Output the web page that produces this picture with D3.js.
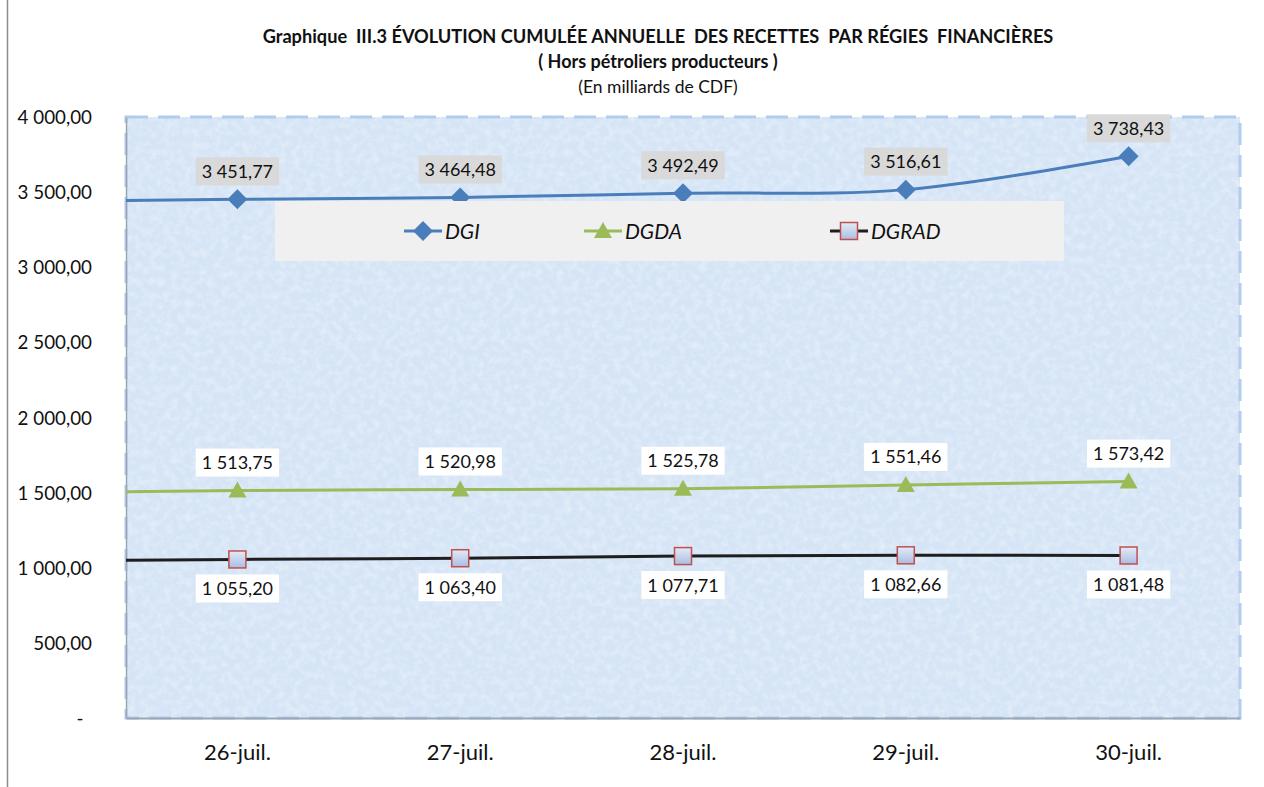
<!DOCTYPE html>
<html>
<head>
<meta charset="utf-8">
<script src="https://cdn.jsdelivr.net/npm/d3@7"></script>
<style>
  body { margin: 0; background: #fff; }
  svg { display: block; font-family: Lato, "Open Sans", sans-serif; }
</style>
</head>
<body>
<svg id="chart" width="1264" height="787"></svg>
<script>
// données (en milliards de CDF)
var dates = ["26-juil.", "27-juil.", "28-juil.", "29-juil.", "30-juil."];
var dgi = [3451.77, 3464.48, 3492.49, 3516.61, 3738.43];
var dgda = [1513.75, 1520.98, 1525.78, 1551.46, 1573.42];
var dgrad = [1055.20, 1063.40, 1077.71, 1082.66, 1081.48];
// valeur de la courbe au bord gauche du graphique (point précédent hors cadre)
var leftEdge = [3445, 1506, 1050];
var seriesNames = ["DGI", "DGDA", "DGRAD"];
var yTicks = [0, 500, 1000, 1500, 2000, 2500, 3000, 3500, 4000];

var FONT = "Lato, 'Open Sans', sans-serif";
var svg = d3.select("#chart");
var plot = { left: 126, right: 1240, top: 117, bottom: 718 };

var x = d3.scaleBand().domain(dates).range([plot.left, plot.right]).padding(0);
var y = d3.scaleLinear().domain([0, 4000]).range([plot.bottom, plot.top]);

var fmt = function (v) {
  if (v === 0) return "-";
  var s = d3.format(",.2f")(v);
  return s.replace(/,/g, " ").replace(".", ",");
};

// texture du fond
var defs = svg.append("defs");
var filt = defs.append("filter").attr("id", "tex")
  .attr("x", 0).attr("y", 0).attr("width", "100%").attr("height", "100%");
filt.append("feTurbulence").attr("type", "fractalNoise")
  .attr("baseFrequency", 0.14).attr("numOctaves", 3).attr("seed", 7).attr("result", "n");
filt.append("feColorMatrix").attr("in", "n").attr("type", "matrix")
  .attr("values", "0 0 0 0 1  0 0 0 0 1  0 0 0 0 1  1.4 0 0 0 -0.6")
  .attr("result", "w");
filt.append("feComposite").attr("in", "w").attr("in2", "SourceGraphic").attr("operator", "in");
defs.append("clipPath").attr("id", "clip").append("rect")
  .attr("x", plot.left).attr("y", plot.top - 20)
  .attr("width", plot.right - plot.left).attr("height", plot.bottom - plot.top + 20);
var grad = defs.append("linearGradient").attr("id", "sq").attr("x1", 0).attr("y1", 0).attr("x2", 0).attr("y2", 1);
grad.append("stop").attr("offset", 0).attr("stop-color", "#e4ebf7");
grad.append("stop").attr("offset", 1).attr("stop-color", "#a9bde3");

// bordure gauche du graphique
svg.append("line").attr("x1", 7.5).attr("x2", 7.5).attr("y1", 0).attr("y2", 787)
  .attr("stroke", "#8c8c8c").attr("stroke-width", 1.5);

// titre
var title = svg.append("g").attr("text-anchor", "middle").attr("fill", "#111");
title.append("text").attr("x", 658).attr("y", 43).attr("font-size", 18.2).attr("font-weight", "bold")
  .attr("xml:space", "preserve")
  .text("Graphique  III.3 ÉVOLUTION CUMULÉE ANNUELLE  DES RECETTES  PAR RÉGIES  FINANCIÈRES");
title.append("text").attr("x", 658).attr("y", 68).attr("font-size", 18).attr("font-weight", "bold")
  .text("( Hors pétroliers producteurs )");
title.append("text").attr("x", 658).attr("y", 93).attr("font-size", 17.5)
  .text("(En milliards de CDF)");

// zone de tracé
svg.append("rect").attr("x", plot.left).attr("y", plot.top)
  .attr("width", plot.right - plot.left).attr("height", plot.bottom - plot.top)
  .attr("fill", "#d6e5f6");
svg.append("rect").attr("x", plot.left).attr("y", plot.top)
  .attr("width", plot.right - plot.left).attr("height", plot.bottom - plot.top)
  .attr("fill", "#d6e5f6").attr("filter", "url(#tex)").attr("opacity", 0.55);
svg.append("rect").attr("x", plot.left).attr("y", plot.top)
  .attr("width", plot.right - plot.left).attr("height", plot.bottom - plot.top)
  .attr("fill", "none").attr("stroke", "#b3cbec").attr("stroke-width", 3)
  .attr("stroke-dasharray", "22,10");

// axes
var yAxis = d3.axisLeft(y).tickValues(yTicks).tickSize(0).tickPadding(34).tickFormat(fmt);
var gy = svg.append("g").attr("transform", "translate(" + plot.left + ",0)").call(yAxis)
  .attr("font-family", FONT);
gy.select(".domain").attr("stroke", "#9aa5b5").attr("stroke-width", 1.5);
gy.selectAll("text").attr("font-size", 18.8).attr("fill", "#111").attr("dy", "0.35em");
gy.selectAll(".tick").filter(function (d) { return d === 0; }).select("text")
  .attr("text-anchor", "middle").attr("x", -46);

var xAxis = d3.axisBottom(x).tickSize(0).tickPadding(26);
var gx = svg.append("g").attr("transform", "translate(0," + plot.bottom + ")").call(xAxis)
  .attr("font-family", FONT);
gx.select(".domain").attr("stroke", "#9aa5b5").attr("stroke-width", 2);
gx.selectAll("text").attr("font-size", 22).attr("fill", "#111");

// séries
var series = [
  { name: seriesNames[0], values: dgi, edge: leftEdge[0], color: "#4a7ebb", marker: "diamond", labelPos: "above", labelBg: "#d9d9d9" },
  { name: seriesNames[1], values: dgda, edge: leftEdge[1], color: "#9bbb59", marker: "triangle", labelPos: "above", labelBg: "#ffffff" },
  { name: seriesNames[2], values: dgrad, edge: leftEdge[2], color: "#1e1e1e", marker: "square", labelPos: "below", labelBg: "#ffffff" }
];

var cx = function (d) { return x(d) + x.bandwidth() / 2; };
var line = d3.line().x(function (d) { return d[0]; }).y(function (d) { return y(d[1]); })
  .curve(d3.curveCatmullRom.alpha(0));

function drawMarker(g, type, color) {
  if (type === "diamond") {
    g.append("path").attr("d", "M0,-10L10,0L0,10L-10,0Z").attr("fill", color);
  } else if (type === "triangle") {
    g.append("path").attr("d", "M0,-9L9,7L-9,7Z").attr("fill", color);
  } else {
    g.append("rect").attr("x", -8.5).attr("y", -8.5).attr("width", 17).attr("height", 17)
      .attr("fill", "url(#sq)").attr("stroke", "#c0504d").attr("stroke-width", 1.5);
  }
}

var gLines = svg.append("g").attr("clip-path", "url(#clip)");
series.forEach(function (s) {
  var pts = [[plot.left, s.edge]].concat(dates.map(function (d, i) { return [cx(d), s.values[i]]; }));
  gLines.append("path").attr("d", line(pts)).attr("fill", "none")
    .attr("stroke", s.color).attr("stroke-width", 3);
});

series.forEach(function (s) {
  var gm = svg.append("g");
  dates.forEach(function (d, i) {
    var m = gm.append("g").attr("transform", "translate(" + cx(d) + "," + y(s.values[i]) + ")");
    drawMarker(m, s.marker, s.color);
  });
});

// étiquettes de données
series.forEach(function (s) {
  dates.forEach(function (d, i) {
    var px = cx(d), py = y(s.values[i]);
    var ly = s.labelPos === "above" ? py - 28 : py + 29;
    var g = svg.append("g").attr("transform", "translate(" + px + "," + ly + ")");
    var t = g.append("text").attr("text-anchor", "middle").attr("dy", "0.36em")
      .attr("font-size", 18).attr("fill", "#111").text(fmt(s.values[i]));
    var w = t.node().getComputedTextLength() + 12;
    g.insert("rect", "text").attr("x", -w / 2).attr("y", -14).attr("width", w).attr("height", 28)
      .attr("fill", s.labelBg);
  });
});

// légende
var lg = svg.append("g");
lg.append("rect").attr("x", 275).attr("y", 201).attr("width", 789).attr("height", 60).attr("fill", "#f0f0f0");
var legX = [404, 584, 830];
series.forEach(function (s, i) {
  var g = lg.append("g").attr("transform", "translate(" + legX[i] + ",231)");
  g.append("line").attr("x1", 0).attr("x2", 38).attr("stroke", s.color).attr("stroke-width", 3);
  var m = g.append("g").attr("transform", "translate(19,0)");
  drawMarker(m, s.marker, s.color);
  g.append("text").attr("x", 41).attr("dy", "0.36em").attr("font-size", 21)
    .attr("font-style", "italic").attr("fill", "#111").text(s.name);
});
</script>
</body>
</html>
